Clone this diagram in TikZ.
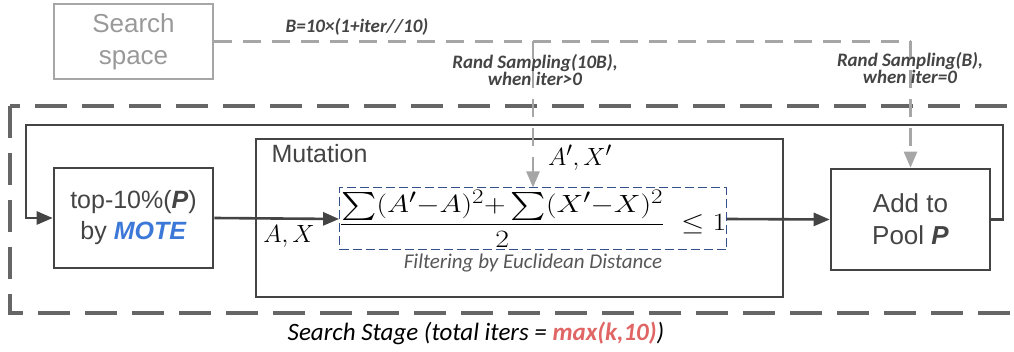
\documentclass[tikz,border=0pt]{standalone}
\usepackage{amsmath,amssymb}
\usepackage{graphicx}
\usepackage[no-math]{fontspec}
\setmainfont{Liberation Sans}
\newfontfamily\calfont{Carlito}
\usetikzlibrary{arrows.meta, positioning, calc}
\definecolor{inkgray}{HTML}{444444}
\definecolor{stagegray}{HTML}{666666}
\definecolor{samplegray}{HTML}{A6A6A6}
\definecolor{spacegray}{HTML}{999999}
\definecolor{filternavy}{HTML}{34508A}
\definecolor{moteblue}{HTML}{3C78D8}
\definecolor{itersred}{HTML}{E06666}

\begin{document}
\begin{tikzpicture}[x=1pt, y=-1pt,
  >={Triangle[length=16pt, width=13pt]},
  box/.style={draw=inkgray, line width=2.6pt, text=inkgray, align=center,
    font=\fontsize{25}{31}\selectfont},
  flow/.style={inkgray, line width=2.6pt},
  sample/.style={samplegray, line width=2.4pt, dash pattern=on 18pt off 11pt},
  note/.style={text=inkgray, font=\calfont\fontsize{19}{17}\selectfont\bfseries\itshape, align=center},
  mathtext/.style={font=\fontsize{28}{32}\selectfont}]

\useasboundingbox (0,0) rectangle (1014,352);

%% Search stage frame
\draw[stagegray, line width=3.4pt, dash pattern=on 32pt off 15pt] (10,106) rectangle (1030,313);
\node (stage) at (476,333) {\calfont\itshape\fontsize{25}{27}\selectfont Search Stage (total iters = {\bfseries\color{itersred}max(k,10)})};

%% Boxes
\node[box, draw=samplegray, text=spacegray, minimum width=159pt, minimum height=75pt,
  font=\fontsize{26}{32}\selectfont] (space) at (133.5,41.5) {Search\\space};
\node[box, minimum width=159pt, minimum height=100pt] (top) at (133.5,218)
  {top-10\%(\textbf{\textit{P}})\\by \textcolor{moteblue}{\textbf{\textit{MOTE}}}};
\node[box, minimum width=527pt, minimum height=158pt] (mutation) at (519.5,218) {};
\node[text=inkgray, anchor=west, font=\fontsize{25}{30}\selectfont] (mutlabel) at (268,154) {Mutation};
\node[box, minimum width=159pt, minimum height=101pt, font=\fontsize{26}{32}\selectfont] (add) at (910.5,219.5) {Add to\\Pool \textbf{\textit{P}}};

% Filter by distance
\node[draw=filternavy, line width=1pt, dash pattern=on 9pt off 4pt, inner sep=0pt,
  minimum width=384pt, minimum height=62pt, mathtext] (filter) at (533,219)
  {\scalebox{1.2}[1]{$\displaystyle\frac{\sum(A'{-}A)^2{+}\sum(X'{-}X)^2}{2}\;\leq 1$}};
\node[text=inkgray!90, font=\calfont\itshape\fontsize{21}{21}\selectfont] (filtlabel) at (533,263) {Filtering by Euclidean Distance};

%% Flow
\draw[flow, ->] (top.east) -- (filter.west);
\node[mathtext] (ax) at (289,236) {$A,X$};
\draw[flow, ->] (filter.east) -- (add.west);
\coordinate (loopne) at (1003,125);
\coordinate (loopnw) at (26,125);
\draw[flow, ->] (add.east) -| (loopne) -- (loopnw) |- (top.west);

%% Sampling
\coordinate (sampfork) at (space.east -| filter.north);
\coordinate (sampend) at (space.east -| add.north);
\draw[sample] (space.east) -- (sampend);
\draw[sample, ->] (sampend) -- (add.north);
\draw[sample, ->] (sampfork) -- (filter.north);
\node[mathtext] (axp) at (580,158) {$A',X'$};
\node[note] (blabel) at (357,27) {B=10×(1+iter//10)};
\node[note] (randlabel) at (535,70) {Rand Sampling(10B),\\when iter>0};
\node[note] (randzero) at (910,68) {Rand Sampling(B),\\when iter=0};

\end{tikzpicture}
\end{document}
